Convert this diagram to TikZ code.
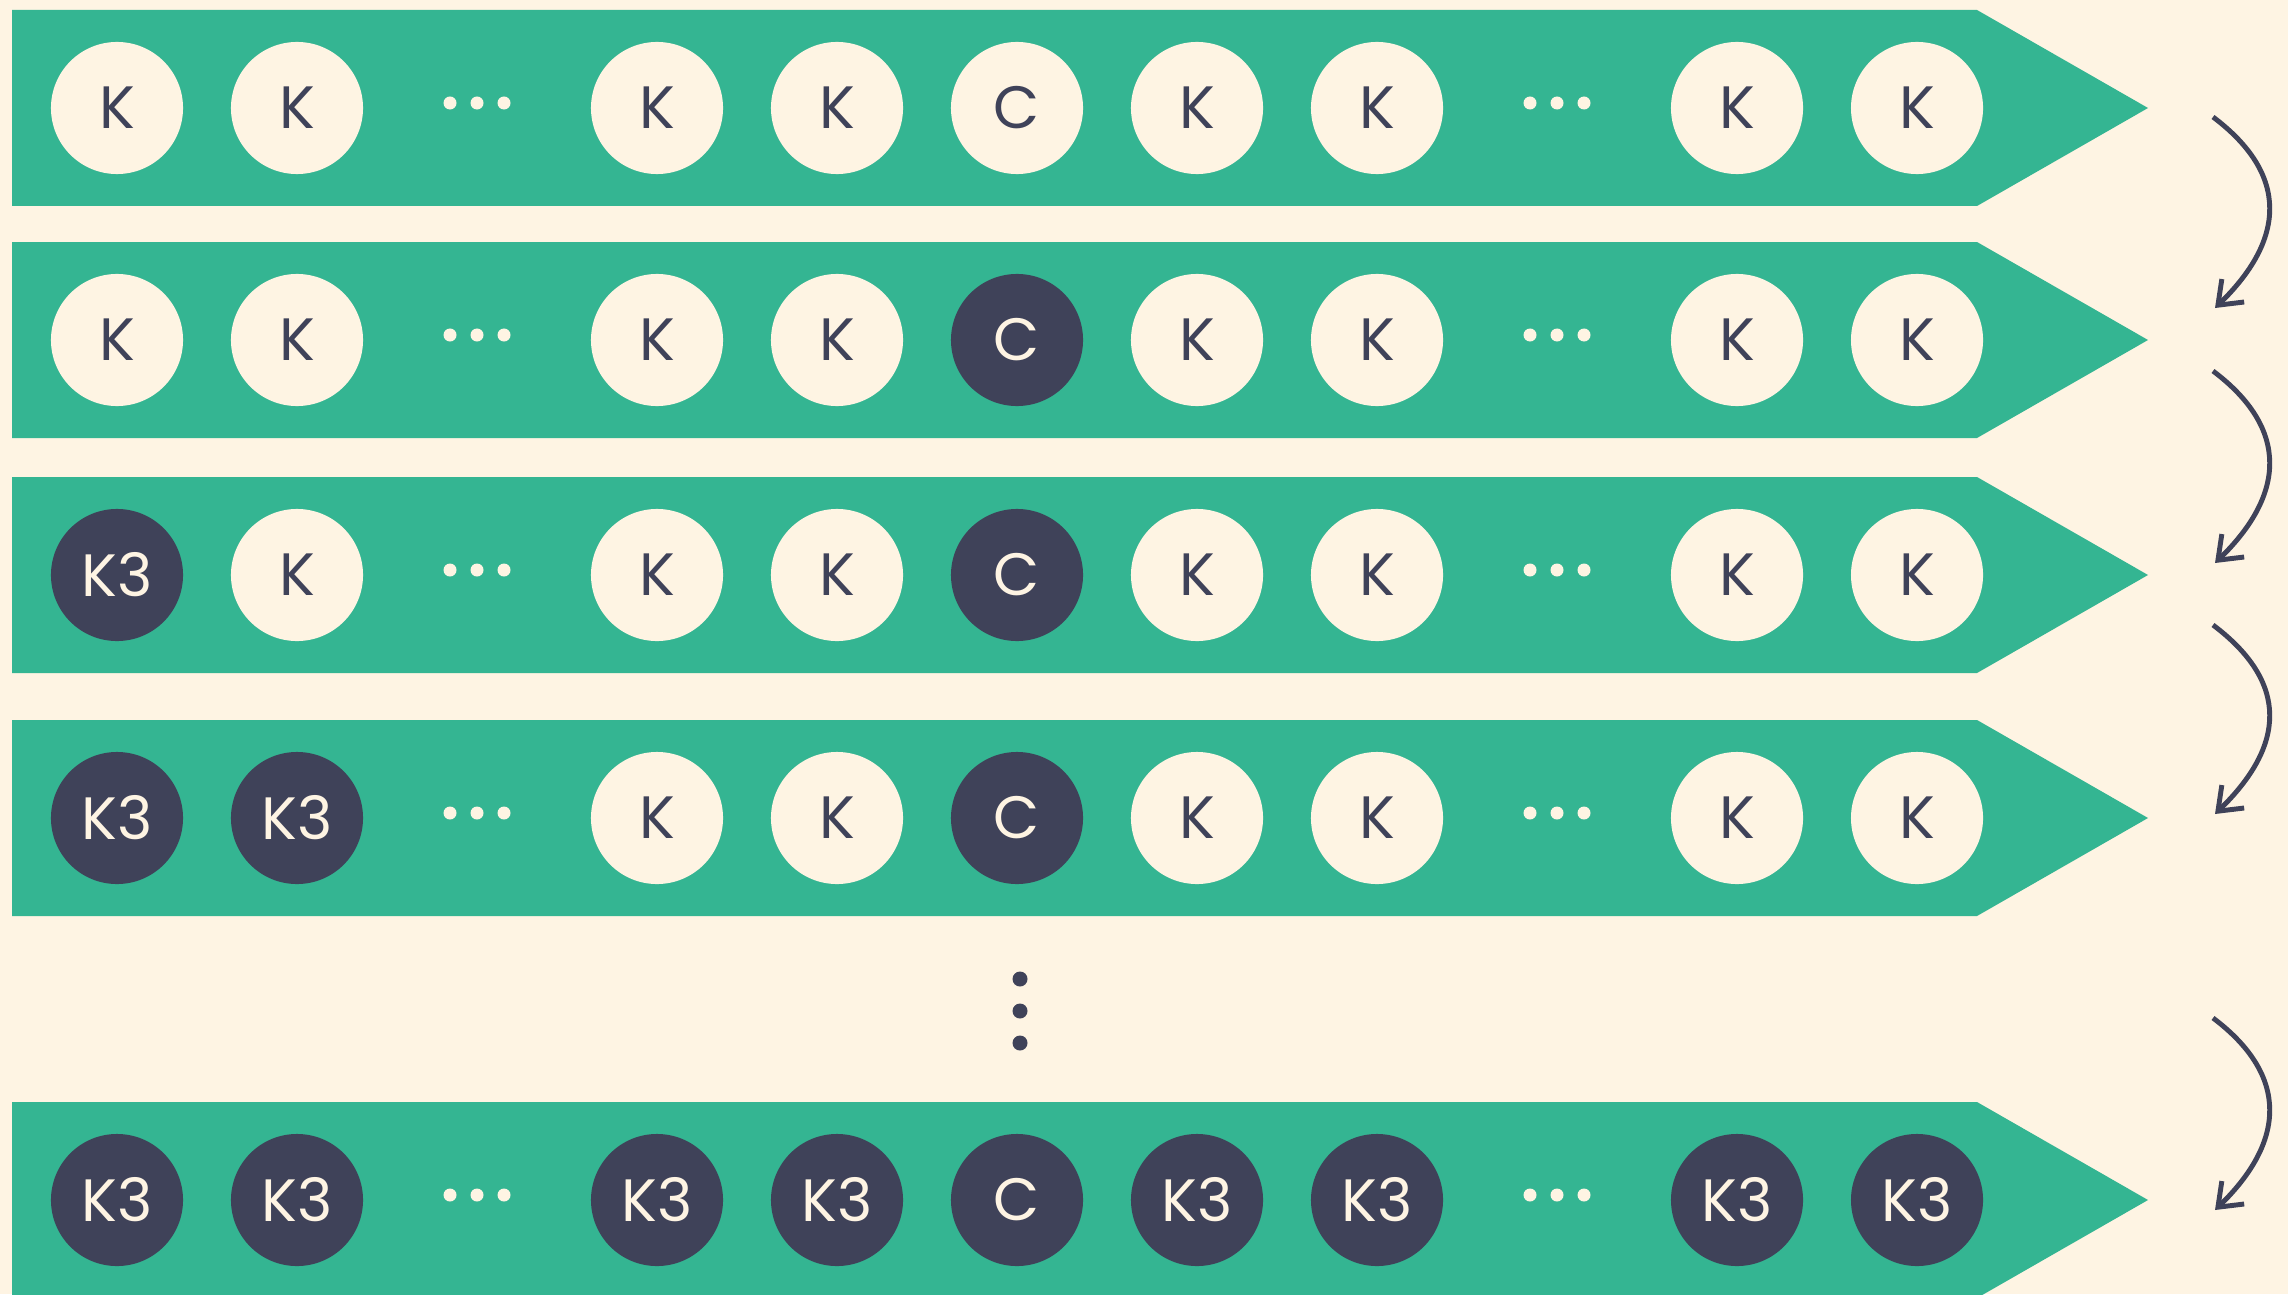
\documentclass[tikz,border=0pt]{standalone}
\usepackage{fontspec}
\setmainfont{Poppins}
\usetikzlibrary{arrows.meta, positioning, calc}
\definecolor{creambg}{RGB}{254,244,227}
\definecolor{bandgreen}{RGB}{52,181,146}
\definecolor{inknavy}{RGB}{63,66,89}

\begin{document}
\begin{tikzpicture}[
  x=0.01cm, y=-0.01cm,
  cell/.style={circle, minimum size=1.32cm, inner sep=0pt,
               font=\fontsize{17}{20}\selectfont},
  cellopen/.style={cell, fill=creambg, text=inknavy},
  celldone/.style={cell, fill=inknavy, text=creambg},
  gapdot/.style={circle, fill=creambg, minimum size=0.13cm, inner sep=0pt},
  vgapdot/.style={circle, fill=inknavy, minimum size=0.15cm, inner sep=0pt},
  band/.style={fill=bandgreen},
  pass/.style={-{Straight Barb[length=2.1mm, width=3.2mm]}, draw=inknavy,
               line width=1.4pt}
]
\fill[creambg] (0,0) rectangle (2288,1294);
\useasboundingbox (0,0) rectangle (2288,1294);
\clip (0,0) rectangle (2288,1294);

% row / centre / K3 cells from the left / style of C
\foreach \r/\y/\n/\cs in {1/108/0/cellopen, 2/340/0/celldone, 3/575/1/celldone,
                          4/818/2/celldone, 5/1200/8/celldone} {
  \fill[band] (12,{\y-98}) -- (1977,{\y-98}) -- (2148,\y)
              -- (1977,{\y+98}) -- (12,{\y+98}) -- cycle;
  \coordinate (tip\r) at (2148,\y);
  \foreach \k/\c in {1/0, 2/1, 3/3, 4/4, 5/6, 6/7, 7/9, 8/10} {
    \ifnum\k>\n \def\st{cellopen}\def\lbl{K}\else \def\st{celldone}\def\lbl{K3}\fi
    \node[\st] (r\r c\c) at ({117+180*\c},\y) {\lbl};
  }
  \node[\cs] (r\r c5) at (1017,\y) {C};
  \foreach \c in {2,8}
    \foreach \d [count=\j] in {-27,0,27}
      \node[gapdot] (r\r g\c\j) at ({117+180*\c+\d},{\y-5}) {};
}

% skipped rows
\foreach \y [count=\j] in {979,1011,1043}
  \node[vgapdot] (skip\j) at (1020,\y) {};

% passes
\coordinate (s1) at (2213,117);  \coordinate (e1) at (2215,308);
\coordinate (s2) at (2213,371);  \coordinate (e2) at (2215,563);
\coordinate (s3) at (2213,625);  \coordinate (e3) at (2215,814);
\coordinate (s4) at (2213,1018); \coordinate (e4) at (2215,1210);
\foreach \i in {1,...,4}
  \draw[pass] (s\i) .. controls +(77,58) and +(70,-68) .. (e\i);
\end{tikzpicture}
\end{document}
